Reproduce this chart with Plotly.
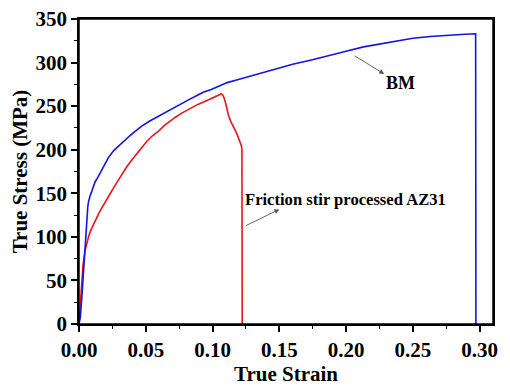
import plotly.graph_objects as go

# BM (base metal) curve
bm_strain = [0, 0.001, 0.002, 0.003, 0.004, 0.005, 0.006, 0.0066, 0.0072, 0.0078, 0.0085,
             0.0093, 0.0105, 0.012, 0.014, 0.016, 0.019, 0.022, 0.026, 0.03, 0.034,
             0.038, 0.042, 0.047, 0.053, 0.06, 0.066, 0.072, 0.078, 0.083, 0.088,
             0.093, 0.099, 0.105, 0.111, 0.118, 0.127, 0.136, 0.148, 0.16, 0.174,
             0.188, 0.2, 0.213, 0.225, 0.238, 0.25, 0.263, 0.272, 0.28, 0.289,
             0.297, 0.2972]
bm_stress = [0, 8, 28, 50, 75, 103, 127, 135, 141, 145, 148,
             151, 156, 163, 168, 174, 183, 191, 199, 205, 211,
             216, 221, 227, 233, 239, 244, 249, 254, 258, 262,
             266, 269, 273, 277, 280, 284, 288, 293, 298, 303,
             308, 313, 318, 321, 325, 328, 330, 331, 332, 332.5,
             333, 0]

# Friction stir processed AZ31 curve
fsp_strain = [0, 0.001, 0.002, 0.003, 0.0045, 0.006, 0.0075, 0.009, 0.0107, 0.0125, 0.0148,
              0.017, 0.0195, 0.022, 0.027, 0.032, 0.036, 0.04, 0.0435, 0.047, 0.051,
              0.055, 0.06, 0.064, 0.068, 0.072, 0.077, 0.083, 0.089, 0.095, 0.0985,
              0.1015, 0.1035, 0.1052, 0.1065, 0.1075, 0.1085, 0.1095, 0.1105, 0.112,
              0.1138, 0.116, 0.118, 0.1195, 0.1208, 0.1215, 0.122, 0.1222]
fsp_stress = [0, 25, 50, 68, 84, 95, 102, 108, 114, 120, 127,
              133, 140, 146, 159, 172, 181, 189, 196, 203, 210,
              216, 222, 228, 233, 237, 242, 247, 252, 256, 258.5,
              261, 262.5, 263.5, 264, 263, 260, 255, 248, 239,
              232, 226, 219, 213, 208, 205, 201, 0]

x_ticks = [0.00, 0.05, 0.10, 0.15, 0.20, 0.25, 0.30]
x_tick_labels = ["0.00", "0.05", "0.10", "0.15", "0.20", "0.25", "0.30"]
y_ticks = [0, 50, 100, 150, 200, 250, 300, 350]

FONT = "Liberation Serif"

fig = go.Figure()
fig.add_trace(go.Scatter(x=fsp_strain, y=fsp_stress, mode="lines",
                         line=dict(color="#e8141b", width=1.6),
                         name="FSP AZ31", showlegend=False))
fig.add_trace(go.Scatter(x=bm_strain, y=bm_stress, mode="lines",
                         line=dict(color="#1414e0", width=1.6),
                         name="BM", showlegend=False))

# BM label + arrow
fig.add_annotation(x=0.2408, y=276, text="<b>BM</b>", showarrow=False,
                   font=dict(family=FONT, size=18, color="black"))
fig.add_annotation(x=0.2285, y=287, ax=-31, ay=-19, text="", showarrow=True,
                   arrowhead=2, arrowsize=1.1, arrowwidth=0.9, arrowcolor="#555555")
# FSP label + arrow
fig.add_annotation(x=0.1995, y=142.5, text="<b>Friction stir processed AZ31</b>",
                   showarrow=False, font=dict(family=FONT, size=16.6, color="black"))
fig.add_annotation(x=0.150, y=131.5, ax=-35, ay=17, text="", showarrow=True,
                   arrowhead=2, arrowsize=1.1, arrowwidth=0.9, arrowcolor="#555555")

# plot frame
fig.add_shape(type="rect", xref="paper", yref="paper", x0=0, x1=1, y0=0, y1=1,
              line=dict(color="black", width=1.5), fillcolor="rgba(0,0,0,0)", layer="above")

axis_common = dict(showline=True, linecolor="black", linewidth=1.5, mirror=True,
                   ticks="outside", ticklen=6, tickwidth=1.5, tickcolor="black",
                   showgrid=False, zeroline=False, automargin=False,
                   ticklabeloverflow="allow",
                   tickfont=dict(family=FONT, size=21, color="black"))

fig.update_xaxes(range=[0, 0.31], tickvals=x_ticks, ticktext=["<b>%s</b>" % t for t in x_tick_labels],
                 minor=dict(ticks="outside", ticklen=3, tickwidth=1.2, tickcolor="black", dtick=0.025, tick0=0),
                 title=dict(text="<b>True Strain</b>", font=dict(family=FONT, size=21, color="black"), standoff=0),
                 **axis_common)
fig.update_yaxes(range=[0, 350], tickvals=y_ticks, ticktext=["<b>%d</b>" % t for t in y_ticks],
                 minor=dict(ticks="outside", ticklen=3, tickwidth=1.2, tickcolor="black", dtick=25, tick0=0),
                 title=dict(text="<b>True Stress (MPa)</b>", font=dict(family=FONT, size=21, color="black"), standoff=10),
                 **axis_common)

# the page body adds an 8px offset, so the figure is sized to fit the window
fig.update_layout(width=502, height=383, margin=dict(l=71, r=17, t=11, b=67),
                  plot_bgcolor="white", paper_bgcolor="white")

fig.write_html("out.html")
